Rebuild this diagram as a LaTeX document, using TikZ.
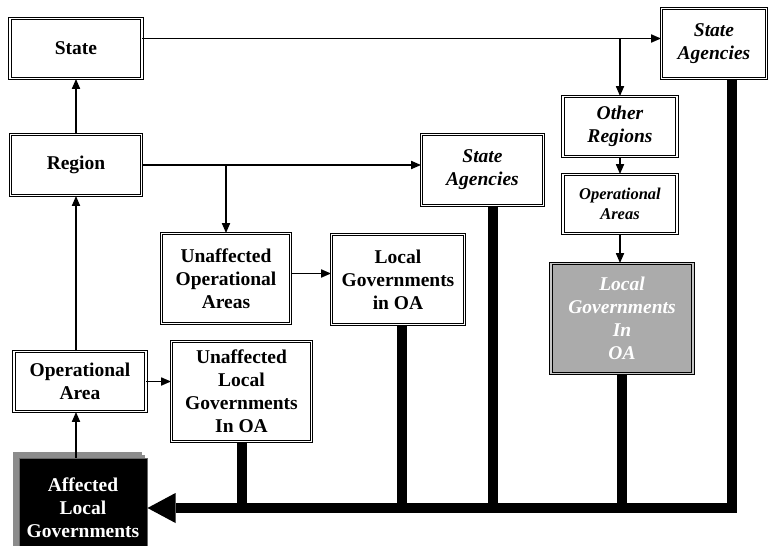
\documentclass[tikz,border=0pt]{standalone}
\usepackage{fontspec}
\setmainfont{Liberation Serif}
\usetikzlibrary{arrows.meta,shadows}
\tikzset{
semithick,
>={Triangle[length=10pt,width=8pt]},
box/.style={draw,double=white,double distance=1.8pt,line width=0.8pt,align=center,inner sep=1pt,font=\fontsize{19.5}{23}\selectfont\bfseries},
ibox/.style={box,font=\fontsize{19.5}{23}\selectfont\bfseries\itshape},
gbox/.style={ibox,fill=black!33,double=black!22,text=white},
abox/.style={draw=black!60,line width=1pt,fill=black,text=white,align=center,inner sep=1pt,font=\fontsize{19.5}{23}\selectfont\bfseries,
  double copy shadow={shadow xshift=-3pt,shadow yshift=3pt,fill=black!45,draw=black!45}},
link/.style={->,line width=1.7pt},
bus/.style={line width=10pt}
}
\begin{document}
\begin{tikzpicture}[x=1pt,y=-1pt]
\useasboundingbox (0,0) rectangle (772,546);
\node[box,minimum width=132pt,minimum height=60pt] (state) at (76,48.5) {State};
\node[box,minimum width=131pt,minimum height=61pt] (region) at (76,165) {Region};
\node[box,minimum width=132pt,minimum height=60pt] (oparea) at (80,381.5) {Operational\\Area};
\node[abox,minimum width=128pt,minimum height=100pt] (aff) at (83,508) {Affected\\Local\\Governments};
\node[box,minimum width=140pt,minimum height=100pt] (ulg) at (241.5,391.5) {Unaffected\\Local\\Governments\\In OA};
\node[box,minimum width=129pt,minimum height=90pt] (uoa) at (226,278.5) {Unaffected\\Operational\\Areas};
\node[box,minimum width=133pt,minimum height=90pt] (lgoa) at (398,279.5) {Local\\Governments\\in OA};
\node[ibox,minimum width=122pt,minimum height=71pt] (sa2) at (482.5,170) {State\\Agencies};
\node[ibox,minimum width=105pt,minimum height=70pt] (sa1) at (714,43.5) {State\\Agencies};
\node[ibox,minimum width=114pt,minimum height=60pt] (orr) at (620,126.5) {Other\\Regions};
\node[ibox,minimum width=114pt,minimum height=59pt,font=\fontsize{16.5}{20}\selectfont\bfseries\itshape] (oas) at (620,204) {Operational\\Areas};
\node[gbox,minimum width=142pt,minimum height=110pt] (lg3) at (622,318.5) {Local\\Governments\\In\\OA};
\coordinate (st) at ([yshift=10pt]state.east);

\path[link] (region.north) edge (state.south)
            (oparea.north -| region) edge (region.south)
            (aff.north -| region) edge (oparea.south -| region)
            (st) edge (st -| sa1.west)
            (st -| orr.north) edge (orr.north)
            (region.east) edge (region.east -| sa2.west)
            (region.east -| uoa.north) edge (uoa.north)
            ([yshift=5pt]uoa.east) edge ([yshift=5pt]uoa.east -| lgoa.west)
            (oparea.east) edge (oparea.east -| ulg.west)
            (orr.south) edge (oas.north)
            (oas.south) edge (oas.south |- lg3.north);

\draw[bus,-{Triangle[length=28pt,width=30pt,line width=0pt]}] ([xshift=18pt]sa1.south) |- (aff.east);
\draw[bus] (ulg.south) -- (ulg.south |- aff.east);
\draw[bus] ([xshift=4pt]lgoa.south) -- ([xshift=4pt]lgoa.south |- aff.east);
\draw[bus] ([xshift=10pt]sa2.south) -- ([xshift=10pt]sa2.south |- aff.east);
\draw[bus] (lg3.south) -- (lg3.south |- aff.east);
\end{tikzpicture}
\end{document}
